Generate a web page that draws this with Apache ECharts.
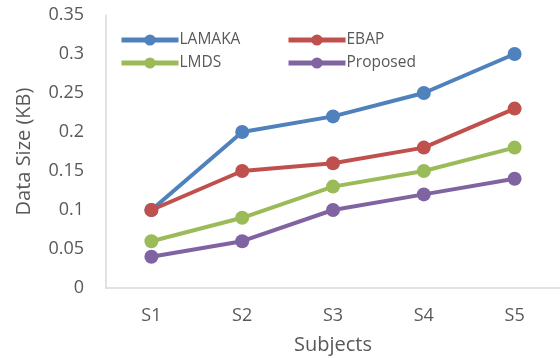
<!DOCTYPE html>
<html>
<head>
<meta charset="utf-8">
<script src="https://cdn.jsdelivr.net/npm/echarts@6/dist/echarts.min.js"></script>
<style>
  html, body { margin: 0; padding: 0; background: #fff; }
  #chart { width: 560px; height: 358px; }
</style>
</head>
<body>
<div id="chart"></div>
<script>
// Subjects along the x axis
const subjects = ['S1', 'S2', 'S3', 'S4', 'S5'];

// Data size (KB) per method
const lamaka = [0.1, 0.2, 0.22, 0.25, 0.3];
const ebap = [0.1, 0.15, 0.16, 0.18, 0.23];
const lmds = [0.06, 0.09, 0.13, 0.15, 0.18];
const proposed = [0.04, 0.06, 0.1, 0.12, 0.14];

const font = 'Open Sans, Liberation Sans, sans-serif';
const textColor = '#595959';

function lineSeries(name, data, color, z) {
  return {
    name: name,
    type: 'line',
    data: data,
    symbol: 'circle',
    symbolSize: 14,
    z: z,
    lineStyle: { width: 4, color: color },
    itemStyle: { color: color },
    emphasis: { disabled: true }
  };
}

function legendBlock(names, left) {
  return {
    data: names,
    orient: 'vertical',
    left: left, top: 27,
    itemWidth: 57, itemHeight: 14, itemGap: 7,
    lineStyle: { width: 5 },
    textStyle: { fontFamily: font, fontSize: 15.5, color: textColor, padding: [0, 0, 0, -4] }
  };
}

const chart = echarts.init(document.getElementById('chart'), null, { renderer: 'canvas' });
chart.setOption({
  animation: false,
  grid: { left: 106, right: 0, top: 15, bottom: 70, outerBoundsMode: 'none', containLabel: false },
  legend: [
    legendBlock(['LAMAKA', 'LMDS'], 114),
    legendBlock(['EBAP', 'Proposed'], 281)
  ],
  xAxis: {
    type: 'category',
    data: subjects,
    boundaryGap: true,
    name: 'Subjects',
    nameLocation: 'middle',
    nameGap: 47,
    nameTextStyle: { fontFamily: font, fontSize: 20, color: textColor },
    axisLine: { lineStyle: { color: '#d9d9d9', width: 1.5 } },
    axisTick: { show: false },
    axisLabel: { fontFamily: font, fontSize: 18, color: textColor, margin: 19 }
  },
  yAxis: {
    type: 'value',
    min: 0, max: 0.35, interval: 0.05,
    name: 'Data Size (KB)',
    nameLocation: 'middle',
    nameGap: 72,
    nameTextStyle: { fontFamily: font, fontSize: 20, color: textColor },
    axisLine: { show: true, lineStyle: { color: '#d9d9d9', width: 1.5 } },
    axisTick: { show: false },
    splitLine: { show: false },
    axisLabel: {
      fontFamily: font, fontSize: 18, color: textColor, margin: 22,
      formatter: v => String(Number(v.toFixed(2)))
    }
  },
  series: [
    lineSeries('LAMAKA', lamaka, '#4f81bd', 2),
    lineSeries('EBAP', ebap, '#c0504d', 3),
    lineSeries('LMDS', lmds, '#9bbb59', 2),
    lineSeries('Proposed', proposed, '#8064a2', 2)
  ]
});
</script>
</body>
</html>
